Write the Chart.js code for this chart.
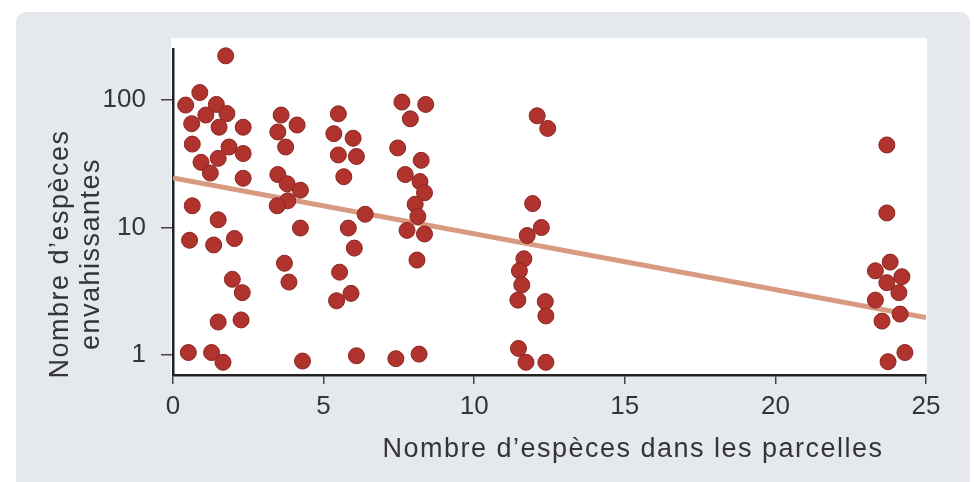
<!DOCTYPE html>
<html lang="fr">
<head>
<meta charset="utf-8">
<script src="https://cdn.jsdelivr.net/npm/chart.js@4/dist/chart.umd.min.js"></script>
<style>
  html, body { margin: 0; padding: 0; background: #ffffff; }
  #panel { position: absolute; left: 16px; top: 12px; width: 954px; height: 480px; background: #e5e9ed; border-radius: 10px; }
  #wrap { position: absolute; left: 0; top: 0; width: 974px; height: 482px; }
</style>
</head>
<body>
<div id="panel"></div>
<div id="wrap"><canvas id="c" width="974" height="482"></canvas></div>
<script>
// Nombre d'espèces présentes dans chaque parcelle
const plotSpecies = [
  1.75, 0.89, 0.42, 1.44, 1.09, 1.79, 0.62, 1.53, 2.33, 0.64, 1.86, 2.33, 0.93, 1.50,
  1.24, 2.33, 0.64, 1.50, 0.55, 1.35, 2.04, 1.97, 2.30, 1.50, 2.26, 0.51, 1.28, 1.66,
  3.59, 4.12, 3.48, 3.74, 3.48, 3.79, 4.23, 3.81, 3.46, 4.23, 3.70, 3.85, 4.30,
  5.49, 5.34, 5.98, 5.49, 6.09, 5.67, 6.38, 5.82, 6.02, 5.53, 5.91, 5.43, 6.09,
  7.60, 8.39, 7.88, 7.46, 8.24, 7.71, 8.20, 8.35, 8.04, 8.13, 7.77, 8.35, 8.10, 7.40, 8.17,
  12.09, 12.44, 11.94, 12.23, 11.76, 11.65, 11.50, 11.58, 11.45, 12.36, 12.38, 11.47, 11.72, 12.38,
  23.70, 23.70, 23.81, 23.32, 24.20, 23.70, 24.10, 23.32, 24.14, 23.54, 24.30, 23.74
];

// Nombre d'espèces envahissantes relevées dans la même parcelle
const invasiveSpecies = [
  221, 114, 91, 92, 76, 78, 65, 61, 61, 45, 42.7, 38, 32.4, 34.8,
  26.7, 24.3, 14.8, 11.5, 7.95, 7.3, 8.2, 3.93, 3.09, 1.82, 1.89, 1.05, 1.05, 0.88,
  76, 63.5, 56, 42.7, 26, 22, 19.6, 16.2, 14.8, 9.9, 5.25, 3.74, 0.90,
  77.7, 54.3, 50, 37, 36, 25, 12.7, 9.9, 6.9, 4.47, 3.05, 2.67, 0.99,
  96, 92, 71, 42, 33.6, 26, 22.9, 18.7, 15.2, 12.2, 9.5, 8.9, 5.56, 0.94, 1.02,
  75, 59.7, 15.4, 10, 8.66, 5.69, 4.58, 3.55, 2.7, 2.63, 2.03, 1.13, 0.88, 0.88,
  44.3, 13, 5.36, 4.58, 4.12, 3.7, 3.09, 2.7, 2.1, 1.85, 1.05, 0.89
];

// Droite de régression (échelle log)
const trendX = [0, 25];
const trendY = [24.4, 1.97];

// Graduations
const xTickValues = [0, 5, 10, 15, 20, 25];
const yTickValues = [1, 10, 100];
const xRange = [0, 25];
const yRange = [0.71, 250];

const xTitle = 'Nombre d\u2019espèces dans les parcelles';
const yTitleLines = ['Nombre d\u2019espèces', 'envahissantes'];

const TEXT = '#353535';
const FONT = '"Liberation Sans", Arial, Helvetica, sans-serif';

const scatterPoints = plotSpecies.map((x, i) => ({ x: x, y: invasiveSpecies[i] }));
const trendPoints = trendX.map((x, i) => ({ x: x, y: trendY[i] }));

// Fond blanc de la zone de tracé
const plotBackground = {
  id: 'plotBackground',
  beforeDraw(chart) {
    const { ctx, chartArea: a } = chart;
    ctx.save();
    ctx.fillStyle = '#ffffff';
    ctx.fillRect(a.left - 2, a.top - 11, a.right - a.left + 3, a.bottom - a.top + 11);
    ctx.restore();
  }
};

// Titres des axes
const axisTitles = {
  id: 'axisTitles',
  afterDraw(chart) {
    const ctx = chart.ctx;
    ctx.save();
    ctx.fillStyle = TEXT;
    ctx.font = '27px ' + FONT;
    if ('letterSpacing' in ctx) ctx.letterSpacing = '1.5px';
    ctx.textAlign = 'center';
    ctx.textBaseline = 'alphabetic';
    ctx.fillText(xTitle, 633, 457);

    const baselines = [68, 99];
    yTitleLines.forEach((line, i) => {
      ctx.save();
      ctx.translate(baselines[i], 254);
      ctx.rotate(-Math.PI / 2);
      ctx.fillText(line, 0, 0);
      ctx.restore();
    });
    ctx.restore();
  }
};

new Chart(document.getElementById('c'), {
  data: {
    datasets: [
      {
        type: 'line',
        data: trendPoints,
        borderColor: '#d99a82',
        borderWidth: 5,
        pointRadius: 0,
        fill: false,
        order: 2
      },
      {
        type: 'scatter',
        data: scatterPoints,
        backgroundColor: '#b1332e',
        borderColor: '#8a2622',
        borderWidth: 1,
        pointRadius: 8,
        pointHoverRadius: 8,
        clip: false,
        order: 1
      }
    ]
  },
  options: {
    responsive: false,
    animation: false,
    events: [],
    layout: { padding: { top: 49, right: 48, left: 0, bottom: 0 } },
    plugins: { legend: { display: false }, tooltip: { enabled: false } },
    scales: {
      x: {
        type: 'linear',
        min: xRange[0],
        max: xRange[1],
        afterBuildTicks(scale) { scale.ticks = xTickValues.map(v => ({ value: v })); },
        afterFit(scale) { scale.height = 107; },
        border: { display: true, color: '#222222', width: 2.5 },
        grid: { display: true, drawOnChartArea: false, drawTicks: true, tickLength: 9, color: '#444444', lineWidth: 1.5 },
        ticks: { color: TEXT, padding: 7, font: { family: FONT, size: 26 }, maxRotation: 0 }
      },
      y: {
        type: 'logarithmic',
        min: yRange[0],
        max: yRange[1],
        afterBuildTicks(scale) { scale.ticks = yTickValues.map(v => ({ value: v })); },
        afterFit(scale) { scale.width = 173; },
        border: { display: true, color: '#222222', width: 2.5 },
        grid: { display: true, drawOnChartArea: false, drawTicks: true, tickLength: 12, color: '#444444', lineWidth: 1.5 },
        ticks: { color: TEXT, padding: 15, font: { family: FONT, size: 26 }, callback: v => String(v) }
      }
    }
  },
  plugins: [plotBackground, axisTitles]
});
</script>
</body>
</html>
